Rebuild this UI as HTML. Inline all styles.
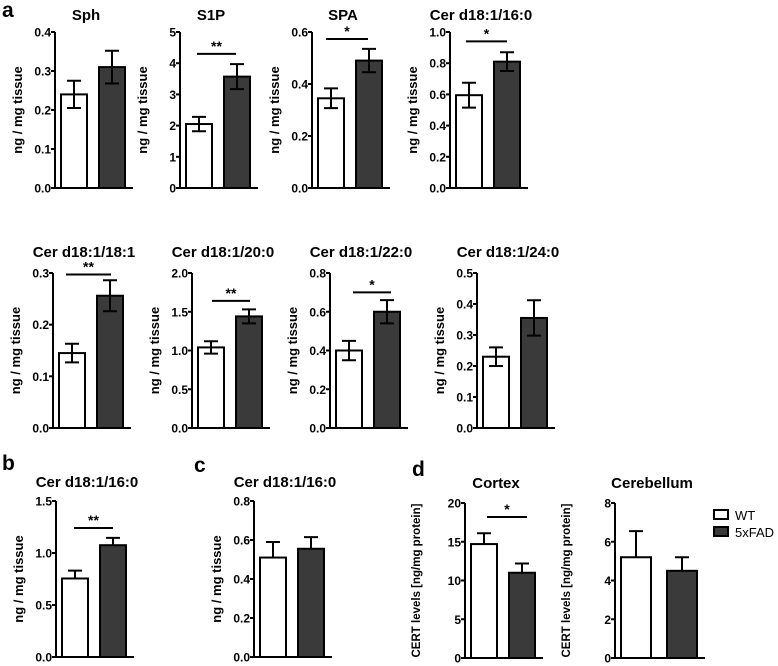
<!DOCTYPE html>
<html><head><meta charset="utf-8"><style>
body{margin:0;background:#fff;}
svg{display:block;font-family:"Liberation Sans",Arial,sans-serif;font-weight:bold;}
svg text{font-weight:bold;}
</style></head><body>
<svg id="fig" width="778" height="666" viewBox="0 0 778 666" xmlns="http://www.w3.org/2000/svg"></svg>
<script>
// ---- data ----
const titles = ["Sph","S1P","SPA","Cer d18:1/16:0","Cer d18:1/18:1","Cer d18:1/20:0","Cer d18:1/22:0","Cer d18:1/24:0","Cer d18:1/16:0","Cer d18:1/16:0","Cortex","Cerebellum"];
const groups = ["WT","5xFAD"];
const wtValues  = [0.24,2.05,0.345,0.595,0.145,1.04,0.40,0.23,0.755,0.51,14.7,5.2];
const fadValues = [0.31,3.57,0.49,0.81,0.256,1.44,0.60,0.355,1.075,0.555,11.0,4.5];
const wtErr  = [0.035,0.23,0.038,0.08,0.018,0.08,0.05,0.03,0.075,0.08,1.4,1.35];
const fadErr = [0.042,0.4,0.045,0.06,0.03,0.09,0.06,0.057,0.07,0.06,1.2,0.7];
const yMax = [0.4,5,0.6,1.0,0.3,2.0,0.8,0.5,1.5,0.8,20,8];
const tickLabels = [
 ["0.0","0.1","0.2","0.3","0.4"],["0","1","2","3","4","5"],["0.0","0.2","0.4","0.6"],["0.0","0.2","0.4","0.6","0.8","1.0"],
 ["0.0","0.1","0.2","0.3"],["0.0","0.5","1.0","1.5","2.0"],["0.0","0.2","0.4","0.6","0.8"],["0.0","0.1","0.2","0.3","0.4","0.5"],
 ["0.0","0.5","1.0","1.5"],["0.0","0.2","0.4","0.6","0.8"],["0","5","10","15","20"],["0","2","4","6","8"]];
const sigLabels = ["","**","*","*","**","**","*","","**","","*",""];
const sigLevel  = [0,4.3,0.573,0.94,0.297,1.64,0.70,0,1.24,0,18.2,0];
const yTitles = ["ng / mg tissue","ng / mg tissue","ng / mg tissue","ng / mg tissue","ng / mg tissue","ng / mg tissue","ng / mg tissue","ng / mg tissue","ng / mg tissue","ng / mg tissue","CERT levels [ng/mg protein]","CERT levels [ng/mg protein]"];
// ---- layout (pixel geometry, not data) ----
const axisX = [55,180,312,450,53,192,330,477,56,254,465,615];
const topY  = [32,32,32,32,273,273,273,273,501,501,503,503];
const botY  = [188,188,188,188,428,428,428,428,657,657,658,658];
const bothErr=[1,1,1,1,1,1,1,1,0,0,0,0];
const titleY=[20,20,20,20,257,257,257,257,487,487,488,488];
const sigX=[[0,0],[197,236],[326,368],[466,507],[66,111],[212,250],[353,391],[0,0],[74,113],[0,0],[487,527],[0,0]];

const svg=document.getElementById('fig');
const NS='http://www.w3.org/2000/svg';
function mk(tag,attrs,parent){const e=document.createElementNS(NS,tag);for(const k in attrs)e.setAttribute(k,attrs[k]);(parent||svg).appendChild(e);return e;}

for(let i=0;i<titles.length;i++){
  const g=mk('g',{});
  
  
  const ax=axisX[i],t=topY[i],b=botY[i];
  const y=v=>b-(v/yMax[i])*(b-t);
  const bw=(i==11)?30:26;
  const x1=ax+6, x2=ax+(i==11?52:44);
  const tt=mk('text',{x:(ax+(x2+bw))/2-4,y:titleY[i],'text-anchor':'middle','font-size':'15'},g);
  tt.textContent=titles[i];
  
  
  [[wtValues[i],wtErr[i],x1,'#fff'],[fadValues[i],fadErr[i],x2,'#3a3a3a']].forEach((d,j)=>{
    const r=mk('rect',{x:d[2],y:y(d[0]),width:bw,height:b-y(d[0]),fill:d[3],stroke:'#000','stroke-width':2},g);
    
    
    const cx=d[2]+bw/2, lo=bothErr[i]?y(d[0]-d[1]):y(d[0]);
    const e=mk('path',{d:`M${cx} ${lo}V${y(d[0]+d[1])}M${cx-7} ${y(d[0]+d[1])}h14`+(bothErr[i]?`M${cx-7} ${lo}h14`:''),stroke:'#000','stroke-width':2,fill:'none'},g);
    
    
  });
  const a=mk('path',{d:`M${ax} ${t}V${b}H${x2+bw+8}`,stroke:'#000','stroke-width':2,fill:'none'},g);
  
  
  const n=tickLabels[i].length;
  tickLabels[i].forEach((lab,k)=>{
    const v=yMax[i]*k/(n-1), yy=y(v);
    mk('path',{d:`M${ax-4} ${yy}H${ax}`,stroke:'#000','stroke-width':2},g);
    const tx=mk('text',{x:ax-4,y:yy+4.5,'text-anchor':'end','font-size':'12'},g);
    tx.textContent=lab;
    
    
  });
  const lx=ax-(i>=10?45:33), ly=(t+b)/2;
  const yl=mk('text',{x:lx,y:ly,'text-anchor':'middle','font-size':(i>=10?'11.5':'13'),transform:`rotate(-90 ${lx} ${ly})`},g);
  yl.textContent=yTitles[i];
  
  
  if(sigLabels[i]){
    const sy=y(sigLevel[i]);
    const sl=mk('path',{d:`M${sigX[i][0]} ${sy}H${sigX[i][1]}`,stroke:'#000','stroke-width':2},g);
    
    
    const st=mk('text',{x:(sigX[i][0]+sigX[i][1])/2,y:sy-3,'text-anchor':'middle','font-size':'14'},g);
    st.textContent=sigLabels[i];
    
    
  }
}
[["a",2,17],["b",2,470],["c",194,472],["d",412,476]].forEach(p=>{
  const t=mk('text',{x:p[1],y:p[2],'font-size':'21'});
  t.textContent=p[0];
  
  
});
const lg=mk('g',{});


[["WT","#fff",510],["5xFAD","#3a3a3a",527]].forEach(l=>{
  const r=mk('rect',{x:714,y:l[2],width:14,height:9,fill:l[1],stroke:'#000','stroke-width':2},lg);
  
  
  const t=mk('text',{x:735,y:l[2]+10,'font-size':'13','style':'font-weight:normal'},lg);
  t.textContent=l[0];
  
  
});
</script>
</body></html>
